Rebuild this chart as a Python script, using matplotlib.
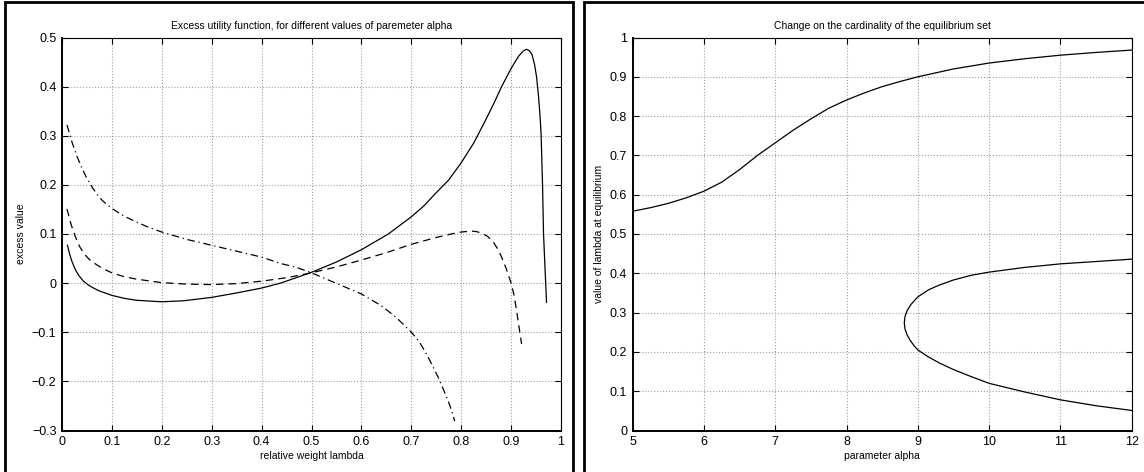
import matplotlib.pyplot as plt
from matplotlib.patches import Rectangle

plt.rcParams['font.family'] = ['Liberation Sans', 'DejaVu Sans']

# ------------------------------
# data
# ------------------------------
lam_solid = [0.011, 0.015, 0.02, 0.027, 0.034, 0.043, 0.053, 0.065, 0.075, 0.1, 0.125,
             0.15, 0.2, 0.243, 0.3, 0.35, 0.4, 0.438, 0.5, 0.55, 0.6, 0.654, 0.7, 0.725,
             0.747, 0.775, 0.8, 0.825, 0.847, 0.865, 0.881, 0.9, 0.915, 0.925, 0.931,
             0.937, 0.942, 0.947, 0.951, 0.955, 0.958, 0.96, 0.963, 0.965, 0.968, 0.971]
exc_solid = [0.077, 0.06, 0.044, 0.027, 0.015, 0.004, -0.004, -0.011, -0.016, -0.025,
             -0.031, -0.035, -0.038, -0.036, -0.029, -0.020, -0.010, 0.0, 0.022, 0.043,
             0.068, 0.1, 0.135, 0.157, 0.181, 0.21, 0.245, 0.285, 0.328, 0.365, 0.4,
             0.437, 0.462, 0.473, 0.476, 0.473, 0.465, 0.445, 0.42, 0.38, 0.34, 0.306,
             0.2, 0.1, 0.03, -0.039]

lam_dash = [0.01, 0.018, 0.027, 0.035, 0.044, 0.055, 0.07, 0.085, 0.1, 0.125, 0.15, 0.2,
            0.25, 0.3, 0.35, 0.4, 0.45, 0.5, 0.55, 0.6, 0.65, 0.7, 0.75, 0.78, 0.8, 0.82,
            0.83, 0.841, 0.853, 0.864, 0.873, 0.881, 0.89, 0.9, 0.906, 0.911, 0.916, 0.921]
exc_dash = [0.151, 0.12, 0.094, 0.075, 0.06, 0.048, 0.037, 0.028, 0.021, 0.013, 0.008,
            0.001, -0.002, -0.003, -0.001, 0.004, 0.011, 0.021, 0.033, 0.047, 0.062, 0.079,
            0.093, 0.1, 0.104, 0.106, 0.105, 0.102, 0.095, 0.084, 0.07, 0.053, 0.03, 0.0,
            -0.025, -0.056, -0.09, -0.124]

lam_dashdot = [0.01, 0.02, 0.03, 0.04, 0.05, 0.06, 0.07, 0.08, 0.09, 0.1, 0.125, 0.15,
               0.175, 0.2, 0.25, 0.3, 0.35, 0.4, 0.438, 0.47, 0.5, 0.537, 0.6, 0.64, 0.67,
               0.7, 0.715, 0.727, 0.74, 0.754, 0.765, 0.774, 0.781, 0.787]
exc_dashdot = [0.322, 0.287, 0.258, 0.234, 0.213, 0.196, 0.181, 0.169, 0.16, 0.152, 0.136,
               0.124, 0.113, 0.104, 0.089, 0.077, 0.065, 0.053, 0.04, 0.032, 0.021, 0.005,
               -0.022, -0.046, -0.07, -0.1, -0.118, -0.138, -0.163, -0.192, -0.218, -0.24,
               -0.26, -0.281]

alpha_up = [5, 5.25, 5.5, 5.75, 6, 6.25, 6.5, 6.75, 7, 7.25, 7.5, 7.75, 8, 8.25, 8.5,
            8.75, 9, 9.5, 10, 10.5, 11, 11.5, 12]
eq_up = [0.558, 0.567, 0.578, 0.592, 0.609, 0.632, 0.664, 0.7, 0.732, 0.764, 0.793, 0.82,
         0.841, 0.859, 0.875, 0.888, 0.9, 0.92, 0.935, 0.946, 0.955, 0.962, 0.968]

alpha_low = [12, 11.5, 11, 10.5, 10, 9.75, 9.5, 9.3, 9.15, 9, 8.9, 8.85, 8.82, 8.81,
             8.82, 8.85, 8.89, 8.95, 9, 9.15, 9.3, 9.5, 9.75, 10, 10.5, 11, 11.5, 12]
eq_low = [0.436, 0.43, 0.424, 0.415, 0.403, 0.395, 0.383, 0.37, 0.358, 0.34, 0.32, 0.305,
          0.29, 0.274, 0.258, 0.243, 0.23, 0.215, 0.205, 0.187, 0.172, 0.155, 0.137, 0.12,
          0.098, 0.078, 0.063, 0.051]

# ------------------------------
# figure
# ------------------------------
fig = plt.figure(figsize=(11.44, 4.72), dpi=100)
W, H = 1144.0, 472.0

# black frames round each panel
for x0, x1 in [(5, 573), (584, 1152)]:
    fig.patches.append(Rectangle((x0 / W, -0.1), (x1 - x0) / W, 1.1 - 2 / H,
                                 transform=fig.transFigure, fill=False,
                                 edgecolor='black', linewidth=2.0))

ax1 = fig.add_axes([62 / W, 1 - 430.5 / H, 499 / W, 393 / H])
ax2 = fig.add_axes([632.7 / W, 1 - 430.5 / H, 499 / W, 393 / H])


def style(ax):
    ax.grid(True, linestyle=':', color='#a0a0a0', linewidth=0.8)
    ax.tick_params(direction='in', top=True, right=True, length=4, width=0.8,
                   labelsize=9, pad=4)
    for s in ax.spines.values():
        s.set_linewidth(0.8)
    ax.spines['bottom'].set_linewidth(1.4)
    ax.spines['left'].set_linewidth(1.4)


ax1.plot(lam_solid, exc_solid, color='black', linewidth=0.9)
ax1.plot(lam_dash, exc_dash, color='black', linewidth=0.9, linestyle=(0, (6, 4)))
ax1.plot(lam_dashdot, exc_dashdot, color='black', linewidth=0.9,
         linestyle=(0, (6, 3, 1, 3)))
ax1.set_xlim(0, 1)
ax1.set_ylim(-0.3, 0.5)
ax1.set_xticks([0, 0.1, 0.2, 0.3, 0.4, 0.5, 0.6, 0.7, 0.8, 0.9, 1])
ax1.set_xticklabels(['0', '0.1', '0.2', '0.3', '0.4', '0.5', '0.6', '0.7', '0.8', '0.9', '1'])
ax1.set_yticks([-0.3, -0.2, -0.1, 0, 0.1, 0.2, 0.3, 0.4, 0.5])
ax1.set_yticklabels(['\u22120.3', '\u22120.2', '\u22120.1', '0', '0.1', '0.2', '0.3', '0.4', '0.5'])
ax1.set_title('Excess utility function, for different values of paremeter alpha',
              fontsize=7.5, pad=6)
ax1.set_xlabel('relative weight lambda', fontsize=7.5, labelpad=2)
ax1.set_ylabel('excess value', fontsize=7.5, labelpad=4)
style(ax1)

ax2.plot(alpha_up, eq_up, color='black', linewidth=0.9)
ax2.plot(alpha_low, eq_low, color='black', linewidth=0.9)
ax2.set_xlim(5, 12)
ax2.set_ylim(0, 1)
ax2.set_xticks([5, 6, 7, 8, 9, 10, 11, 12])
ax2.set_yticks([0, 0.1, 0.2, 0.3, 0.4, 0.5, 0.6, 0.7, 0.8, 0.9, 1])
ax2.set_yticklabels(['0', '0.1', '0.2', '0.3', '0.4', '0.5', '0.6', '0.7', '0.8', '0.9', '1'])
ax2.set_title('Change on the cardinality of the equilibrium set', fontsize=7.5, pad=6)
ax2.set_xlabel('parameter alpha', fontsize=7.5, labelpad=2)
ax2.set_ylabel('value of lambda at equilibrium', fontsize=7.5, labelpad=4)
style(ax2)

fig.savefig('out.png', dpi=100)
